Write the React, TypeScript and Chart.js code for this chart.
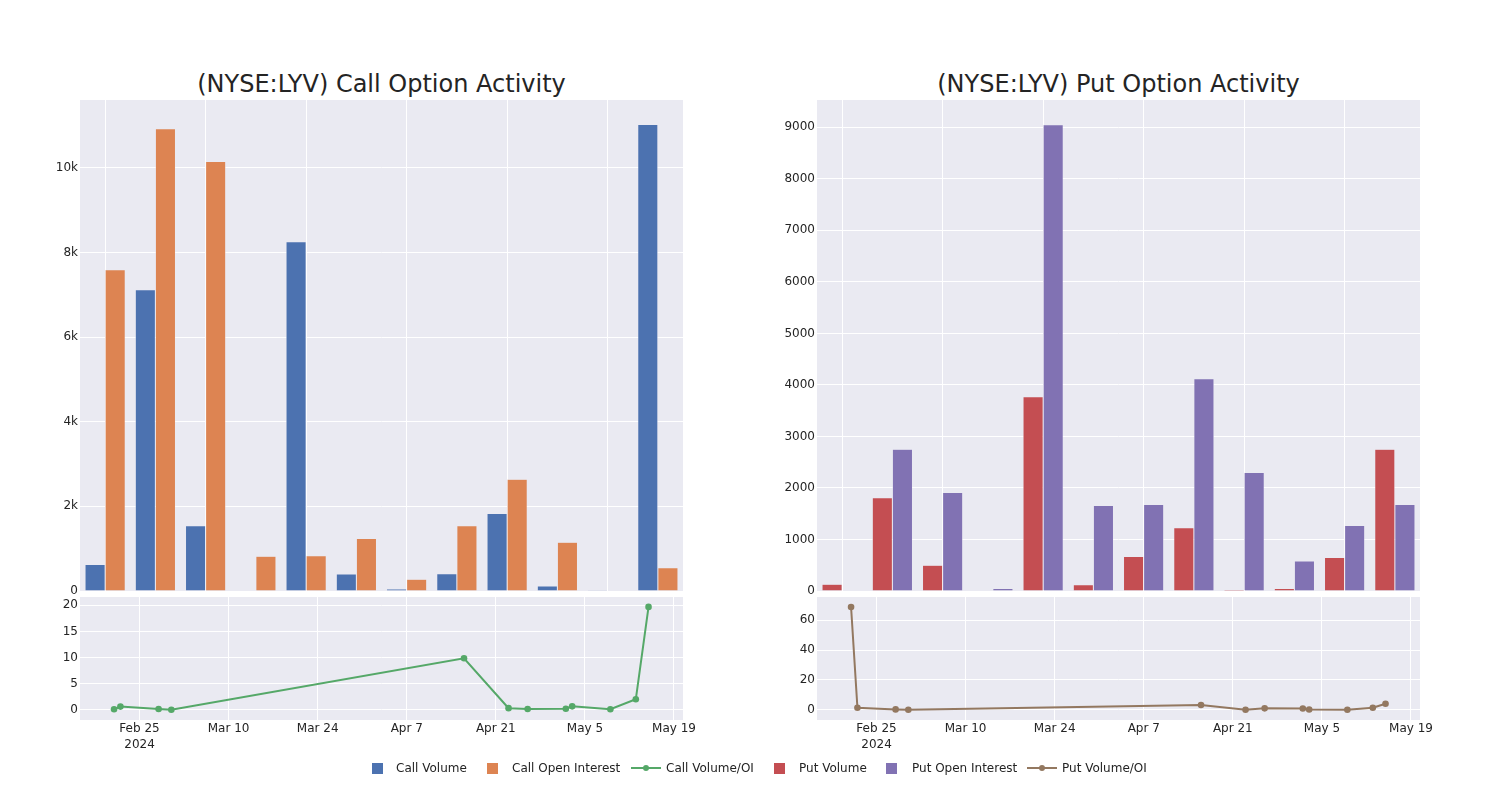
import React, { useEffect, useRef } from "react";
import { Chart, registerables } from "chart.js";

Chart.register(...registerables);

// ---------- data ----------
const categories = [
  "2024-02-21", "2024-02-22", "2024-02-28", "2024-03-01", "2024-04-16", "2024-04-23",
  "2024-04-26", "2024-05-02", "2024-05-03", "2024-05-09", "2024-05-13", "2024-05-15",
];
const callVolume = [625, 7120, 1540, 0, 8250, 400, 50, 410, 1830, 120, 20, 11020];
const callOpenInterest = [7590, 10920, 10150, 820, 830, 1240, 280, 1540, 2640, 1150, 10, 550];
const putVolume = [130, 1810, 500, 0, 3770, 120, 670, 1230, 30, 50, 650, 2750];
const putOpenInterest = [0, 2750, 1910, 50, 9050, 1660, 1680, 4120, 2300, 580, 1270, 1680];
const callVolumeOI = [0.08, 0.6, 0.15, 0.0, 9.85, 0.3, 0.15, 0.2, 0.65, 0.1, 2.0, 19.7];
const putVolumeOI = [68.9, 1.3, 0.2, 0.0, 3.2, 0.0, 0.9, 0.8, 0.1, 0.0, 1.3, 4.0];

const callYTicks = [0, 2000, 4000, 6000, 8000, 10000];
const callYTickLabels = ["0", "2k", "4k", "6k", "8k", "10k"];
const putYTicks = [0, 1000, 2000, 3000, 4000, 5000, 6000, 7000, 8000, 9000];
const putYTickLabels = ["0", "1000", "2000", "3000", "4000", "5000", "6000", "7000", "8000", "9000"];
const callRatioTicks = [0, 5, 10, 15, 20];
const putRatioTicks = [0, 20, 40, 60];

const xTickDates = ["2024-02-25", "2024-03-10", "2024-03-24", "2024-04-07", "2024-04-21", "2024-05-05", "2024-05-19"];
const xTickLabels = ["Feb 25", "Mar 10", "Mar 24", "Apr 7", "Apr 21", "May 5", "May 19"];
const xYearLabel = "2024";

const callTitle = "(NYSE:LYV) Call Option Activity";
const putTitle = "(NYSE:LYV) Put Option Activity";

const COLORS = {
  callVol: "#4C72B0",
  callOI: "#DD8452",
  callRatio: "#55A868",
  putVol: "#C44E52",
  putOI: "#8172B3",
  putRatio: "#937860",
};
const PLOT_BG = "#EAEAF2";
const TEXT = "#242424";
const FONT = "'DejaVu Sans', Verdana, sans-serif";

Chart.defaults.font.family = FONT;
Chart.defaults.font.size = 12;
Chart.defaults.color = TEXT;

const toTs = (s: string) => Date.parse(s + "T00:00:00Z");
const X_MIN = Date.UTC(2024, 1, 15, 15, 30);
const X_MAX = Date.UTC(2024, 4, 20, 10, 0);

const bgPlugin = {
  id: "plotBg",
  beforeDraw(chart: any) {
    const { ctx, chartArea: a } = chart;
    ctx.save();
    ctx.fillStyle = PLOT_BG;
    ctx.fillRect(a.left, a.top, a.right - a.left, a.bottom - a.top);
    ctx.restore();
  },
};

const CANVAS_W = 720;
const PAD_RIGHT = 37;
const Y_AXIS_W = 80;

function yAxis(min: number, max: number, ticks: number[], labels: string[]): any {
  return {
    min,
    max,
    afterBuildTicks: (scale: any) => {
      scale.ticks = ticks.map((v) => ({ value: v }));
    },
    ticks: {
      autoSkip: false,
      padding: 2,
      color: TEXT,
      callback: (_v: any, index: number) => labels[index],
    },
    grid: { color: "#ffffff", drawTicks: false, lineWidth: 1 },
    border: { display: false },
    afterFit: (s: any) => {
      s.width = Y_AXIS_W;
    },
  };
}

function barConfig(
  series: { label: string; data: number[]; color: string }[],
  yMax: number,
  ticks: number[],
  labels: string[]
): any {
  return {
    type: "bar",
    data: {
      labels: categories,
      datasets: series.map((s) => ({
        label: s.label,
        data: s.data,
        backgroundColor: s.color,
        borderColor: PLOT_BG,
        borderWidth: 0.5,
        categoryPercentage: 0.8,
        barPercentage: 1.0,
      })),
    },
    options: {
      responsive: false,
      animation: false,
      layout: { padding: { top: 10, right: PAD_RIGHT, left: 0, bottom: 0 } },
      plugins: { legend: { display: false }, tooltip: { enabled: false } },
      scales: {
        x: {
          type: "category",
          offset: true,
          ticks: { display: false },
          grid: {
            offset: false,
            drawTicks: false,
            lineWidth: 1,
            color: (ctx: any) => (ctx.index % 2 === 0 ? "#ffffff" : "rgba(0,0,0,0)"),
          },
          border: { display: false },
          afterFit: (s: any) => {
            s.height = 10;
          },
        },
        y: yAxis(0, yMax, ticks, labels),
      },
    },
    plugins: [bgPlugin],
  };
}

function lineConfig(values: number[], color: string, yMin: number, yMax: number, ticks: number[]): any {
  return {
    type: "line",
    data: {
      datasets: [
        {
          label: "ratio",
          data: categories.map((d, i) => ({ x: toTs(d), y: values[i] })),
          borderColor: color,
          backgroundColor: color,
          borderWidth: 2,
          pointRadius: 3.3,
          pointBorderWidth: 0,
          pointBackgroundColor: color,
          tension: 0,
        },
      ],
    },
    options: {
      responsive: false,
      animation: false,
      layout: { padding: { top: 10, right: PAD_RIGHT, left: 0, bottom: 0 } },
      plugins: { legend: { display: false }, tooltip: { enabled: false } },
      scales: {
        x: {
          type: "linear",
          min: X_MIN,
          max: X_MAX,
          afterBuildTicks: (scale: any) => {
            scale.ticks = xTickDates.map((d) => ({ value: toTs(d) }));
          },
          ticks: {
            autoSkip: false,
            maxRotation: 0,
            minRotation: 0,
            padding: 1,
            color: TEXT,
            font: { size: 12, lineHeight: 16 / 12 },
            callback: (_v: any, index: number) =>
              index === 0 ? [xTickLabels[0], xYearLabel] : xTickLabels[index],
          },
          grid: { color: "#ffffff", drawTicks: false, lineWidth: 1 },
          border: { display: false },
          afterFit: (s: any) => {
            s.height = 80;
          },
        },
        y: yAxis(yMin, yMax, ticks, ticks.map((t) => String(t))),
      },
    },
    plugins: [bgPlugin],
  };
}

function ChartCanvas(props: { left: number; top: number; height: number; config: () => any }) {
  const ref = useRef<HTMLCanvasElement | null>(null);
  useEffect(() => {
    if (!ref.current) return;
    const chart = new Chart(ref.current, props.config());
    return () => chart.destroy();
  }, []);
  return (
    <canvas
      ref={ref}
      width={CANVAS_W}
      height={props.height}
      style={{
        position: "absolute",
        left: props.left,
        top: props.top,
        width: CANVAS_W,
        height: props.height,
        display: "block",
      }}
    />
  );
}

function Title(props: { text: string; left: number }) {
  return (
    <div
      style={{
        position: "absolute",
        left: props.left,
        top: 72,
        width: 603,
        textAlign: "center",
        fontFamily: FONT,
        fontSize: 24,
        lineHeight: "24px",
        color: TEXT,
        whiteSpace: "nowrap",
      }}
    >
      {props.text}
    </div>
  );
}

type LegendItem = { label: string; color: string; kind: "bar" | "line"; sym: number; text: number };
const legendItems: LegendItem[] = [
  { label: "Call Volume", color: COLORS.callVol, kind: "bar", sym: 377, text: 396 },
  { label: "Call Open Interest", color: COLORS.callOI, kind: "bar", sym: 492, text: 512 },
  { label: "Call Volume/OI", color: COLORS.callRatio, kind: "line", sym: 646, text: 666 },
  { label: "Put Volume", color: COLORS.putVol, kind: "bar", sym: 779, text: 799 },
  { label: "Put Open Interest", color: COLORS.putOI, kind: "bar", sym: 891.5, text: 912 },
  { label: "Put Volume/OI", color: COLORS.putRatio, kind: "line", sym: 1042, text: 1062 },
];

function Legend() {
  const cy = 768;
  return (
    <>
      {legendItems.map((it) => (
        <React.Fragment key={it.label}>
          {it.kind === "bar" ? (
            <div
              style={{
                position: "absolute",
                left: it.sym - 5.5,
                top: cy - 5.5,
                width: 11,
                height: 11,
                background: it.color,
              }}
            />
          ) : (
            <>
              <div
                style={{
                  position: "absolute",
                  left: it.sym - 15,
                  top: cy - 1,
                  width: 30,
                  height: 2,
                  background: it.color,
                }}
              />
              <div
                style={{
                  position: "absolute",
                  left: it.sym - 3,
                  top: cy - 3,
                  width: 6,
                  height: 6,
                  borderRadius: "50%",
                  background: it.color,
                }}
              />
            </>
          )}
          <div
            style={{
              position: "absolute",
              left: it.text,
              top: cy - 8,
              fontFamily: FONT,
              fontSize: 12,
              lineHeight: "16px",
              color: TEXT,
              whiteSpace: "nowrap",
            }}
          >
            {it.label}
          </div>
        </React.Fragment>
      ))}
    </>
  );
}

export default function App() {
  return (
    <div
      style={{
        position: "absolute",
        left: 0,
        top: 0,
        width: 1500,
        height: 800,
        background: "#ffffff",
        overflow: "hidden",
      }}
    >
      <Title text={callTitle} left={80} />
      <Title text={putTitle} left={817} />
      <ChartCanvas
        left={0}
        top={90}
        height={511}
        config={() =>
          barConfig(
            [
              { label: "Call Volume", data: callVolume, color: COLORS.callVol },
              { label: "Call Open Interest", data: callOpenInterest, color: COLORS.callOI },
            ],
            11600,
            callYTicks,
            callYTickLabels
          )
        }
      />
      <ChartCanvas
        left={737}
        top={90}
        height={511}
        config={() =>
          barConfig(
            [
              { label: "Put Volume", data: putVolume, color: COLORS.putVol },
              { label: "Put Open Interest", data: putOpenInterest, color: COLORS.putOI },
            ],
            9530,
            putYTicks,
            putYTickLabels
          )
        }
      />
      <ChartCanvas left={0} top={587} height={213} config={() => lineConfig(callVolumeOI, COLORS.callRatio, -1.97, 21.6, callRatioTicks)} />
      <ChartCanvas left={737} top={587} height={213} config={() => lineConfig(putVolumeOI, COLORS.putRatio, -6.9, 75.6, putRatioTicks)} />
      <Legend />
    </div>
  );
}
